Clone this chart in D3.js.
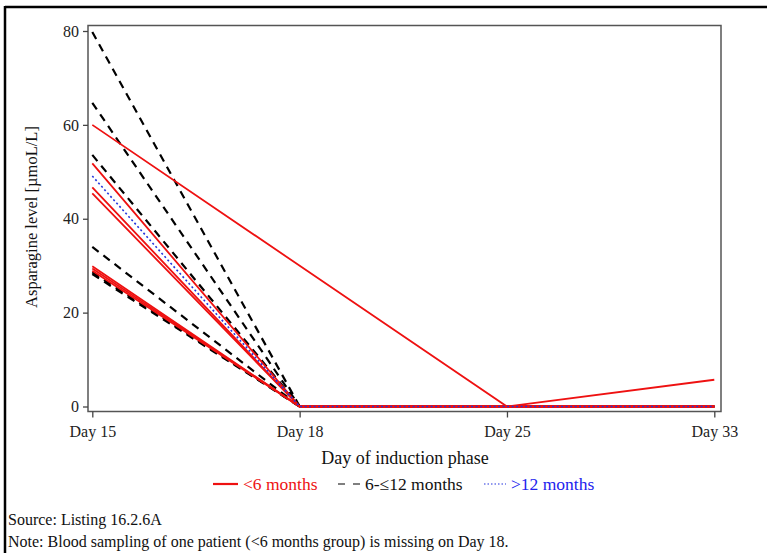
<!DOCTYPE html>
<html><head><meta charset="utf-8">
<script src="https://cdn.jsdelivr.net/npm/d3@7"></script>
<style>
html,body{margin:0;padding:0;background:#fff;}
svg text{font-family:"Liberation Serif","DejaVu Serif",serif;}
</style></head>
<body>
<svg id="c" width="767" height="553"></svg>
<script>
// ---- data ----
const days = ["Day 15", "Day 18", "Day 25", "Day 33"];
const yTicks = [0, 20, 40, 60, 80];
const groups = ["<6 months", "6-\u226412 months", ">12 months"];
// <6 months (red, solid); null = missing sample
const seriesLt6 = [
  [60.0, null, 0, 5.7],
  [51.8, 0, 0, 0],
  [46.7, 0, 0, 0],
  [45.4, 0, 0, 0],
  [29.9, 0, 0, 0],
  [29.4, 0, 0, 0],
  [28.9, 0, 0, 0]
];
// 6-<=12 months (black, dashed)
const series6to12 = [
  [79.8, 0, 0, 0],
  [64.7, 0, 0, 0],
  [53.6, 0, 0, 0],
  [34.0, 0, 0, 0],
  [28.6, 0, 0, 0],
  [28.2, 0, 0, 0]
];
// >12 months (blue, dotted)
const seriesGt12 = [
  [49.1, 0, 0, 0]
];

const svg = d3.select("#c");
const L = 88, R = 721, T = 25.5, B = 411.5;
const x = d3.scalePoint().domain(days).range([92.3, 714.3]);
const y = d3.scaleLinear().domain([0, 80]).range([406.5, 31]);

// outer frame
svg.append("line").attr("x1",5).attr("x2",767).attr("y1",7).attr("y2",7).attr("stroke","#000").attr("stroke-width",2.5);
svg.append("line").attr("x1",5).attr("x2",5).attr("y1",6).attr("y2",553).attr("stroke","#000").attr("stroke-width",2.5);

// plot frame
svg.append("rect").attr("x",L).attr("y",T).attr("width",R-L).attr("height",B-T)
  .attr("fill","none").attr("stroke","#555").attr("stroke-width",1.5);

// axes
const yAxis = svg.append("g").attr("transform",`translate(${L},0)`)
  .call(d3.axisLeft(y).tickValues(yTicks).tickSize(5).tickPadding(4));
const xAxis = svg.append("g").attr("transform",`translate(0,${B})`)
  .call(d3.axisBottom(x).tickSize(6).tickPadding(8));
[yAxis, xAxis].forEach(a => {
  a.select(".domain").remove();
  a.selectAll(".tick line").attr("stroke","#444").attr("stroke-width",1.3);
  a.selectAll("text").attr("font-size",16).attr("fill","#222");
});

const line = d3.line().x(d => x(d[0])).y(d => y(d[1]));
function toPts(s){ return s.map((v,i)=>[days[i],v]).filter(d=>d[1]!==null); }

const styles = [
  {data: seriesLt6, color:"#ee1111", dash:null, w:1.8},
  {data: series6to12, color:"#000", dash:"8,6", w:2.2},
  {data: seriesGt12, color:"#2233dd", dash:"2,2.5", w:1.6}
];
// draw black first, then red, then blue (as in reference)
[styles[1], styles[0], styles[2]].forEach(st => {
  svg.append("g").selectAll("path").data(st.data).join("path")
    .attr("d", s => line(toPts(s)))
    .attr("fill","none").attr("stroke",st.color).attr("stroke-width",st.w)
    .attr("stroke-dasharray",st.dash);
});

// axis titles
svg.append("text").attr("x",405).attr("y",464).attr("text-anchor","middle")
  .attr("font-size",18).attr("fill","#111").text("Day of induction phase");
svg.append("text").attr("transform","translate(37,217) rotate(-90)").attr("text-anchor","middle")
  .attr("font-size",16.5).attr("fill","#111").text("Asparagine level [\u00b5moL/L]");

// legend
const leg = svg.append("g");
const legItems = [
  {label: groups[0], color:"#ee1111", dash:null, w:2.2, x1:213, x2:238, tx:243, tc:"#ee1111"},
  {label: groups[1], color:"#000", dash:"7,8", w:1.2, x1:338, x2:360, tx:365, tc:"#111"},
  {label: groups[2], color:"#2233dd", dash:"1.5,2", w:1.2, x1:484, x2:506, tx:511, tc:"#2222ee"}
];
legItems.forEach(it => {
  leg.append("line").attr("x1",it.x1).attr("x2",it.x2).attr("y1",484).attr("y2",484)
    .attr("stroke",it.color).attr("stroke-width",it.w).attr("stroke-dasharray",it.dash);
  leg.append("text").attr("x",it.tx).attr("y",490).attr("font-size",17.5)
    .attr("fill",it.tc).text(it.label);
});

// notes
svg.append("text").attr("x",8).attr("y",525).attr("font-size",16).attr("fill","#111").text("Source: Listing 16.2.6A");
svg.append("text").attr("x",8).attr("y",547).attr("font-size",16).attr("fill","#111")
  .text("Note: Blood sampling of one patient (<6 months group) is missing on Day 18.");
</script>
</body></html>
